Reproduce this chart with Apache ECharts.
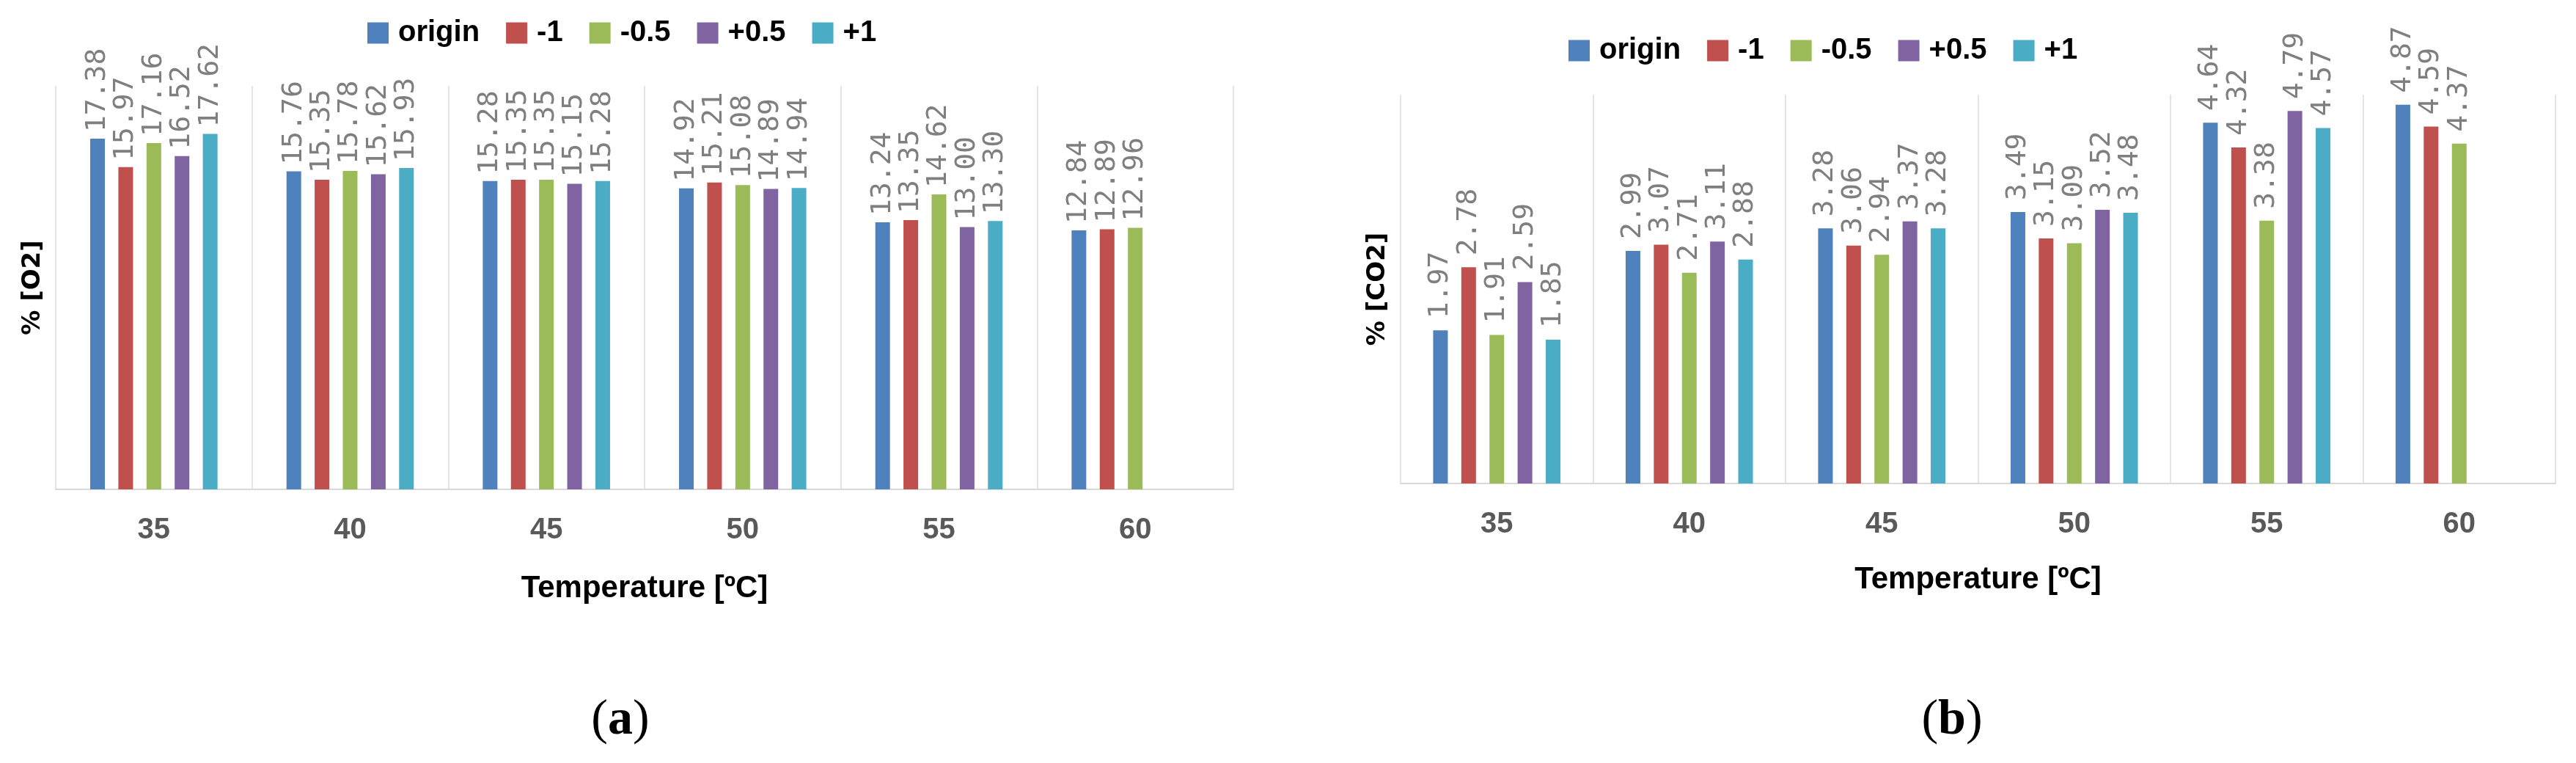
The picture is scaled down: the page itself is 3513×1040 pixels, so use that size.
<!DOCTYPE html>
<html>
<head>
<meta charset="utf-8">
<script src="https://cdn.jsdelivr.net/npm/echarts@6/dist/echarts.min.js"></script>
<style>
  html, body { margin: 0; padding: 0; background: #fff; }
  #main { width: 3513px; height: 1040px; }
</style>
</head>
<body>
<div id="main"></div>
<script>
// categories and series names
const temps = ['35', '40', '45', '50', '55', '60'];
const names = ['origin', '-1', '-0.5', '+0.5', '+1'];
const colors = ['#4F81BD', '#C0504D', '#9BBB59', '#8064A2', '#4BACC6'];

// (a) % O2
const o2Origin = [17.38, 15.76, 15.28, 14.92, 13.24, 12.84];
const o2Minus1 = [15.97, 15.35, 15.35, 15.21, 13.35, 12.89];
const o2Minus05 = [17.16, 15.78, 15.35, 15.08, 14.62, 12.96];
const o2Plus05 = [16.52, 15.62, 15.15, 14.89, 13.00, '-'];
const o2Plus1 = [17.62, 15.93, 15.28, 14.94, 13.30, '-'];

// (b) % CO2
const co2Origin = [1.97, 2.99, 3.28, 3.49, 4.64, 4.87];
const co2Minus1 = [2.78, 3.07, 3.06, 3.15, 4.32, 4.59];
const co2Minus05 = [1.91, 2.71, 2.94, 3.09, 3.38, 4.37];
const co2Plus05 = [2.59, 3.11, 3.37, 3.52, 4.79, '-'];
const co2Plus1 = [1.85, 2.88, 3.28, 3.48, 4.57, '-'];

const o2Data = [o2Origin, o2Minus1, o2Minus05, o2Plus05, o2Plus1];
const co2Data = [co2Origin, co2Minus1, co2Minus05, co2Plus05, co2Plus1];

function makeSeries(data, axisIdx, dist) {
  return data.map(function (vals, i) {
    return {
      name: names[i],
      type: 'bar',
      xAxisIndex: axisIdx,
      yAxisIndex: axisIdx,
      data: vals,
      barWidth: 20,
      barGap: '92%',
      itemStyle: { color: colors[i] },
      label: {
        show: true,
        position: 'top',
        rotate: 90,
        align: 'left',
        verticalAlign: 'middle',
        distance: dist,
        fontFamily: 'DejaVu Sans Mono',
        fontSize: 38,
        color: '#7f7f7f',
        formatter: function (p) { return Number(p.value).toFixed(2) }
      }
    }
  })
}

function xAx(gridIdx, gap) {
  return {
    type: 'category',
    gridIndex: gridIdx,
    data: temps,
    axisLine: { lineStyle: { color: '#d9d9d9', width: 2 } },
    axisTick: { show: false },
    axisLabel: { margin: 36, fontFamily: 'Liberation Sans', fontWeight: 'bold', fontSize: 40, color: '#595959' },
    splitLine: { show: true, lineStyle: { color: '#e4e4e4', width: 2 } },
    name: 'Temperature [ºC]',
    nameLocation: 'middle',
    nameGap: gap,
    nameTextStyle: { fontFamily: 'Liberation Sans', fontWeight: 'bold', fontSize: 42, color: '#000' }
  }
}

function yAx(gridIdx, max, title) {
  return {
    type: 'value',
    gridIndex: gridIdx,
    min: 0,
    max: max,
    axisLine: { show: false },
    axisTick: { show: false },
    axisLabel: { show: false },
    splitLine: { show: false },
    name: title,
    nameLocation: 'middle',
    nameRotate: 90,
    nameGap: 14,
    nameTextStyle: { fontFamily: 'DejaVu Sans', fontWeight: 'bold', fontSize: 34, color: '#000' }
  }
}

function legendAt(left, top) {
  return {
    data: names,
    left: left,
    top: top,
    icon: 'rect',
    itemWidth: 29,
    itemHeight: 29,
    itemGap: 36,
    selectedMode: false,
    textStyle: { fontFamily: 'Liberation Sans', fontWeight: 'bold', fontSize: 40, color: '#000', padding: [0, 0, 0, 8] }
  }
}

function caption(x, letter) {
  return {
    type: 'text',
    x: x,
    y: 948,
    style: {
      text: '{p|(}{l|' + letter + '}{p|)}',
      align: 'center',
      verticalAlign: 'top',
      rich: {
        p: { fontFamily: 'Liberation Serif', fontSize: 68, fill: '#000' },
        l: { fontFamily: 'Liberation Serif', fontWeight: 'bold', fontSize: 68, fill: '#000' }
      }
    }
  }
}

const chart = echarts.init(document.getElementById('main'));
chart.setOption({
  backgroundColor: '#ffffff',
  animation: false,
  legend: [legendAt(496, 20), legendAt(2134, 44)],
  grid: [
    { left: 76, right: 3513 - 1682, top: 117, bottom: 1040 - 667 },
    { left: 1910, right: 3513 - 3485, top: 129, bottom: 1040 - 659 }
  ],
  xAxis: [xAx(0, 114), xAx(1, 110)],
  yAxis: [yAx(0, 20, '% [O2]'), yAx(1, 5, '% [CO2]')],
  series: makeSeries(o2Data, 0, 9).concat(makeSeries(co2Data, 1, 16)),
  graphic: [caption(846, 'a'), caption(2662, 'b')]
})
</script>
</body>
</html>
